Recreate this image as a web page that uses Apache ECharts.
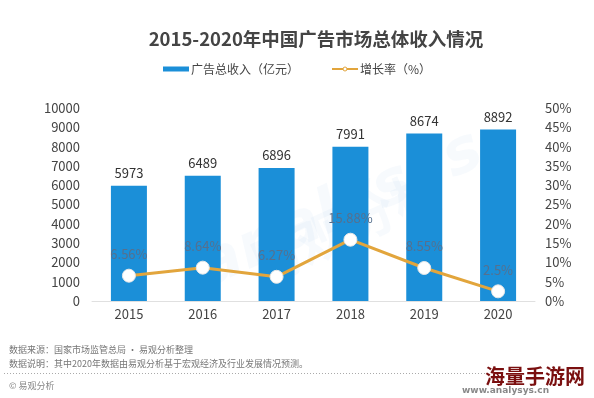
<!DOCTYPE html>
<html><head><meta charset="utf-8">
<script src="https://cdn.jsdelivr.net/npm/echarts@6/dist/echarts.min.js"></script>
<style>html,body{margin:0;padding:0;background:#fff}#c{width:594px;height:398px}</style>
</head><body><div id="c"></div>
<script>
const categories = ['2015','2016','2017','2018','2019','2020'];
const revenue = [5973, 6489, 6896, 7991, 8674, 8892];
const growth = [6.56, 8.64, 6.27, 15.88, 8.55, 2.5];
const growthLabels = ['6.56%','8.64%','6.27%','15.88%','8.55%','2.5%'];
const titleText = '2015-2020年中国广告市场总体收入情况';
const seriesNames = ['广告总收入（亿元）','增长率（%）'];
const footnotes = ['数据来源：国家市场监管总局 · 易观分析整理','数据说明：其中2020年数据由易观分析基于宏观经济及行业发展情况预测。','© 易观分析'];

const FONT = '"Noto Sans CJK SC", "Noto Sans", sans-serif';
const chart = echarts.init(document.getElementById('c'), null, {renderer:'canvas'});
chart.setOption({
  backgroundColor:'#fff',
  animation:false,
  textStyle:{fontFamily:FONT},
  title:{text:titleText, left:311, top:25, textAlign:'center',
    textStyle:{fontSize:18.5, fontWeight:'bold', color:'#444', fontFamily:FONT}},
  legend:{top:58, left:158, itemGap:32, itemWidth:26, itemHeight:5,
    textStyle:{fontSize:12, color:'#444', padding:[0,0,0,-3]},
    data:[{name:seriesNames[0], icon:'rect'},
          {name:seriesNames[1], itemStyle:{color:'#fff', borderColor:'#e2a53c', borderWidth:1}}]},
  grid:{left:92, right:59, top:108, bottom:97},
  xAxis:{type:'category', data:categories,
    axisLine:{lineStyle:{color:'#e0e0e0'}}, axisTick:{show:false},
    axisLabel:{color:'#444', fontSize:13, margin:7}},
  yAxis:[
    {type:'value', min:0, max:10000, interval:1000, splitLine:{show:false},
     axisLine:{show:false}, axisTick:{show:false},
     axisLabel:{color:'#444', fontSize:13, margin:12, formatter:v => String(v)}},
    {type:'value', min:0, max:50, interval:5, splitLine:{show:false},
     axisLine:{show:false}, axisTick:{show:false},
     axisLabel:{color:'#444', fontSize:13, margin:10, formatter:v => v + '%'}}
  ],
  graphic:[
    {type:'text', left:190, top:120, rotation:0.42, z:-1, silent:true,
     style:{text:'analysys', font:'bold italic 62px "DejaVu Sans", sans-serif', fill:'rgba(120,170,220,0.06)'}},
    {type:'text', left:240, top:160, rotation:0.42, z:-1, silent:true,
     style:{text:'易观分析', font:'bold 52px "Noto Sans CJK SC", sans-serif', fill:'rgba(120,170,220,0.06)'}},
    {type:'text', left:9, top:345, style:{text:footnotes[0], font:'9px "Noto Sans CJK SC", sans-serif', fill:'#777'}},
    {type:'text', left:9, top:359, style:{text:footnotes[1], font:'9px "Noto Sans CJK SC", sans-serif', fill:'#777'}},
    {type:'line', shape:{x1:4, y1:373.5, x2:485, y2:373.5}, style:{stroke:'#aaa', lineWidth:1, lineDash:[1,2]}},
    {type:'text', left:9, top:381, style:{text:footnotes[2], font:'9px "Noto Sans CJK SC", sans-serif', fill:'#888'}},
    {type:'text', left:462, top:386, style:{text:'www.analysys.cn', font:'bold 9px "DejaVu Sans", sans-serif', fill:'#888'}},
    {type:'text', left:485, top:366, style:{text:'海量手游网', font:'bold 20px "Noto Sans CJK SC", sans-serif', fill:'#7a0f0f'}}
  ],
  series:[
    {name:seriesNames[0], type:'bar', data:revenue, barWidth:36,
     itemStyle:{color:'#1b8fd8'},
     label:{show:true, position:'top', distance:6, color:'#333', fontSize:13}},
    {name:seriesNames[1], type:'line', yAxisIndex:1, data:growth,
     lineStyle:{color:'#e2a53c', width:3}, itemStyle:{color:'#fff', borderColor:'#e8e8e8', borderWidth:1},
     symbol:'circle', symbolSize:13, z:5,
     label:{show:true, position:'top', distance:8,
       formatter:p => '{v|' + growthLabels[p.dataIndex] + '}',
       rich:{v:{color:'#56708e', fontSize:13, fontFamily:FONT, textBorderWidth:0, textBorderColor:'transparent'}},
       textBorderWidth:0, textBorderColor:'transparent', color:'#56708e'}}
  ]
});
</script></body></html>
